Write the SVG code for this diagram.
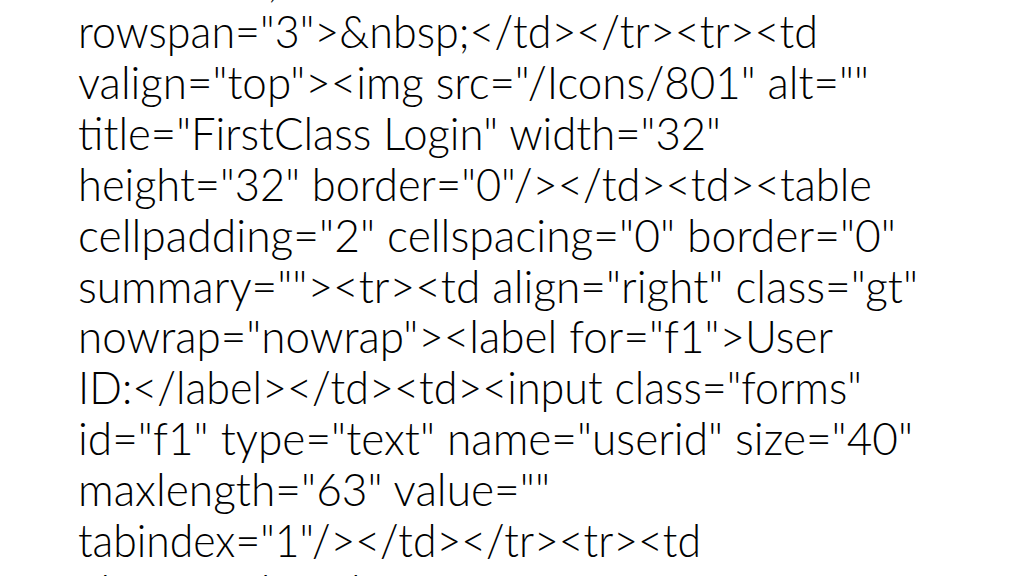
<svg xmlns="http://www.w3.org/2000/svg" width="1024" height="576" viewBox="0 0 1024 576">
<style>
.t{font-family:Lato,"Open Sans","Liberation Sans",sans-serif;font-weight:300;font-size:45px;fill:#000}
</style>
<rect width="1024" height="576" fill="#fff"/>
<g id="slide-text">
<text class="t" x="268" y="-3">,</text>
<text class="t" x="78" y="48" textLength="740" lengthAdjust="spacingAndGlyphs">rowspan="3"&gt;&amp;nbsp;&lt;/td&gt;&lt;/tr&gt;&lt;tr&gt;&lt;td</text>
<text class="t" x="78" y="98.9" textLength="791" lengthAdjust="spacingAndGlyphs">valign="top"&gt;&lt;img src="/Icons/801" alt=""</text>
<text class="t" x="78" y="149.8" textLength="643" lengthAdjust="spacingAndGlyphs">title="FirstClass Login" width="32"</text>
<text class="t" x="78" y="200.7" textLength="794" lengthAdjust="spacingAndGlyphs">height="32" border="0"/&gt;&lt;/td&gt;&lt;td&gt;&lt;table</text>
<text class="t" x="78" y="251.6" textLength="818" lengthAdjust="spacingAndGlyphs">cellpadding="2" cellspacing="0" border="0"</text>
<text class="t" x="78" y="302.5" textLength="840" lengthAdjust="spacingAndGlyphs">summary=""&gt;&lt;tr&gt;&lt;td align="right" class="gt"</text>
<text class="t" x="78" y="353.4" textLength="755" lengthAdjust="spacingAndGlyphs">nowrap="nowrap"&gt;&lt;label for="f1"&gt;User</text>
<text class="t" x="78" y="404.3" textLength="784" lengthAdjust="spacingAndGlyphs">ID:&lt;/label&gt;&lt;/td&gt;&lt;td&gt;&lt;input class="forms"</text>
<text class="t" x="78" y="455.2" textLength="835" lengthAdjust="spacingAndGlyphs">id="f1" type="text" name="userid" size="40"</text>
<text class="t" x="78" y="506.1" textLength="472" lengthAdjust="spacingAndGlyphs">maxlength="63" value=""</text>
<text class="t" x="78" y="557" textLength="623" lengthAdjust="spacingAndGlyphs">tabindex="1"/&gt;&lt;/td&gt;&lt;/tr&gt;&lt;tr&gt;&lt;td</text>
<text class="t" x="78" y="608" textLength="440" lengthAdjust="spacingAndGlyphs">align="right" class="gt"</text>
</g>
</svg>
